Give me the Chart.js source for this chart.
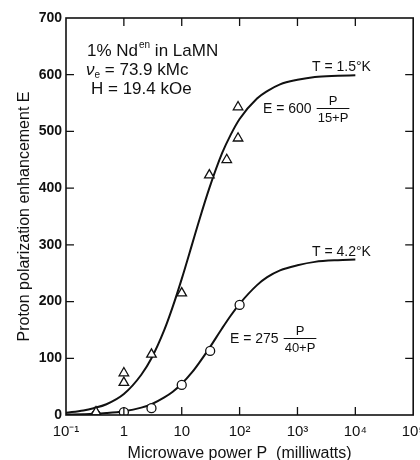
<!DOCTYPE html>
<html>
<head>
<meta charset="utf-8">
<script src="https://cdn.jsdelivr.net/npm/chart.js@4/dist/chart.umd.min.js"></script>
<style>
  html, body { margin: 0; padding: 0; background: #fff; }
  #wrap { width: 420px; height: 460px; }
</style>
</head>
<body>
<div id="wrap"><canvas id="canvas-enhancement" width="420" height="460"></canvas></div>
<script>
// measured points, T = 1.5 K (triangles)
const triP = [0.33, 1, 1, 3.0, 10, 30, 60, 94, 94];
const triE = [5, 74, 57, 107, 215, 423, 450, 488, 543];

// measured points, T = 4.2 K (circles)
const circP = [0.33, 1, 3.0, 10, 31, 100];
const circE = [0, 5, 12, 53, 113, 194];

// fitted curves
const curveP = [0.1, 0.2, 0.3, 0.5, 1, 2, 3, 5, 7, 10, 15, 20, 30, 50, 70, 100, 200, 300, 500, 1000, 2000, 5000, 10000];
const curveHigh = [4, 8, 12, 19, 37, 71, 100, 150, 191, 240, 300, 343, 400, 462, 494, 522, 558, 571, 583, 591, 596, 598, 599];
const curveLow = [0.7, 1.4, 2, 3.4, 6.7, 13, 19, 31, 41, 55, 75, 92, 118, 153, 175, 196, 229, 243, 255, 264, 270, 273, 274];

// axes
const xTickVals = [0.1, 1, 10, 100, 1000, 10000, 100000];
const xTickLabels = ["10\u207B\u00B9", "1", "10", "10\u00B2", "10\u00B3", "10\u2074", "10\u2075"];
const yTickVals = [0, 100, 200, 300, 400, 500, 600, 700];

const FONT = "'Liberation Sans', Arial, sans-serif";

const toXY = (xs, ys) => xs.map((v, i) => ({ x: v, y: ys[i] }));

// frame, inward tick marks and the text on the plot
const frameAndText = {
  id: "frameAndText",
  afterDatasetsDraw(chart) {
    const { ctx, chartArea: a, scales: { x, y } } = chart;
    ctx.save();
    ctx.strokeStyle = "#111";
    ctx.lineWidth = 1.6;
    ctx.strokeRect(a.left, a.top, a.right - a.left, a.bottom - a.top);
    ctx.lineWidth = 1.3;
    const len = 8;
    xTickVals.slice(1, -1).forEach((v) => {
      const px = x.getPixelForValue(v);
      ctx.beginPath();
      ctx.moveTo(px, a.top); ctx.lineTo(px, a.top + len);
      ctx.moveTo(px, a.bottom); ctx.lineTo(px, a.bottom - len);
      ctx.stroke();
    });
    yTickVals.slice(1, -1).forEach((v) => {
      const py = y.getPixelForValue(v);
      ctx.beginPath();
      ctx.moveTo(a.left, py); ctx.lineTo(a.left + len, py);
      ctx.moveTo(a.right, py); ctx.lineTo(a.right - len, py);
      ctx.stroke();
    });

    ctx.fillStyle = "#111";
    ctx.textBaseline = "alphabetic";
    ctx.textAlign = "left";

    // sample description
    let cx = 87;
    ctx.font = "17px " + FONT;
    ctx.fillText("1% Nd", cx, 56);
    cx += ctx.measureText("1% Nd").width + 1;
    ctx.font = "10px " + FONT;
    ctx.fillText("en", cx, 48);
    cx += ctx.measureText("en").width;
    ctx.font = "17px " + FONT;
    ctx.fillText(" in LaMN", cx, 56);

    cx = 86;
    ctx.font = "italic 17px " + FONT;
    ctx.fillText("\u03BD", cx, 75);
    cx += ctx.measureText("\u03BD").width;
    ctx.font = "10px " + FONT;
    ctx.fillText("e", cx, 78);
    cx += ctx.measureText("e").width;
    ctx.font = "17px " + FONT;
    ctx.fillText(" = 73.9 kMc", cx, 75);

    ctx.fillText("H = 19.4 kOe", 91, 94);

    // curve labels
    ctx.font = "14px " + FONT;
    ctx.fillText("T = 1.5\u00B0K", 312, 71);
    ctx.fillText("T = 4.2\u00B0K", 312, 256);

    const frac = (lead, den, x0, base) => {
      ctx.font = "14px " + FONT;
      ctx.textAlign = "left";
      ctx.fillText(lead, x0, base);
      const w = ctx.measureText(lead).width + 6;
      ctx.font = "13px " + FONT;
      const dw = ctx.measureText(den).width;
      ctx.textAlign = "center";
      ctx.fillText("P", x0 + w + dw / 2, base - 8);
      ctx.fillText(den, x0 + w + dw / 2, base + 9);
      ctx.lineWidth = 1;
      ctx.beginPath();
      ctx.moveTo(x0 + w - 1, base - 4.5);
      ctx.lineTo(x0 + w + dw + 1, base - 4.5);
      ctx.stroke();
      ctx.textAlign = "left";
    };
    frac("E = 600", "15+P", 263, 113);
    frac("E = 275", "40+P", 230, 343);
    ctx.restore();
  },
};

const context = document.getElementById("canvas-enhancement").getContext("2d");
new Chart(context, {
  type: "scatter",
  data: {
    datasets: [
      {
        label: "fit 1.5 K",
        data: toXY(curveP, curveHigh),
        showLine: true,
        order: 2,
        borderColor: "#111",
        borderWidth: 2,
        pointRadius: 0,
        cubicInterpolationMode: "monotone",
      },
      {
        label: "fit 4.2 K",
        data: toXY(curveP, curveLow),
        showLine: true,
        order: 2,
        borderColor: "#111",
        borderWidth: 2,
        pointRadius: 0,
        cubicInterpolationMode: "monotone",
      },
      {
        label: "T = 1.5 K",
        data: toXY(triP, triE),
        order: 1,
        pointStyle: "triangle",
        pointRadius: 5.5,
        borderColor: "#111",
        borderWidth: 1.3,
        backgroundColor: "#fff",
      },
      {
        label: "T = 4.2 K",
        data: toXY(circP, circE),
        order: 1,
        pointStyle: "circle",
        pointRadius: 4.5,
        borderColor: "#111",
        borderWidth: 1.3,
        backgroundColor: "#fff",
      },
    ],
  },
  options: {
    responsive: false,
    animation: false,
    events: [],
    layout: { padding: { top: 18, right: 6, left: 0, bottom: 0 } },
    plugins: { legend: { display: false }, tooltip: { enabled: false } },
    scales: {
      x: {
        type: "logarithmic",
        min: 0.1,
        max: 100000,
        grid: { display: false, drawTicks: false },
        border: { display: false },
        afterBuildTicks: (scale) => {
          scale.ticks = xTickVals.map((v) => ({ value: v }));
        },
        afterFit: (scale) => {
          scale.height = 45;
          scale.paddingLeft = 0;
          scale.paddingRight = 0;
        },
        ticks: {
          autoSkip: false,
          maxRotation: 0,
          padding: 8,
          color: "#111",
          font: { family: FONT, size: 15 },
          callback: (value, index) => xTickLabels[index],
        },
        title: {
          display: true,
          text: "Microwave power P  (milliwatts)",
          color: "#111",
          font: { family: FONT, size: 16 },
          padding: { top: 0, bottom: -3 },
        },
      },
      y: {
        min: 0,
        max: 700,
        grid: { display: false, drawTicks: false },
        border: { display: false },
        afterBuildTicks: (scale) => {
          scale.ticks = yTickVals.map((v) => ({ value: v }));
        },
        afterFit: (scale) => {
          scale.width = 66;
          scale.paddingTop = 0;
          scale.paddingBottom = 0;
        },
        ticks: {
          padding: 4,
          color: "#111",
          font: { family: FONT, size: 14, weight: "bold" },
        },
        title: {
          display: true,
          text: "Proton polarization enhancement E",
          color: "#111",
          font: { family: FONT, size: 16 },
          padding: { top: 15, bottom: 0 },
        },
      },
    },
  },
  plugins: [frameAndText],
});
</script>
</body>
</html>
